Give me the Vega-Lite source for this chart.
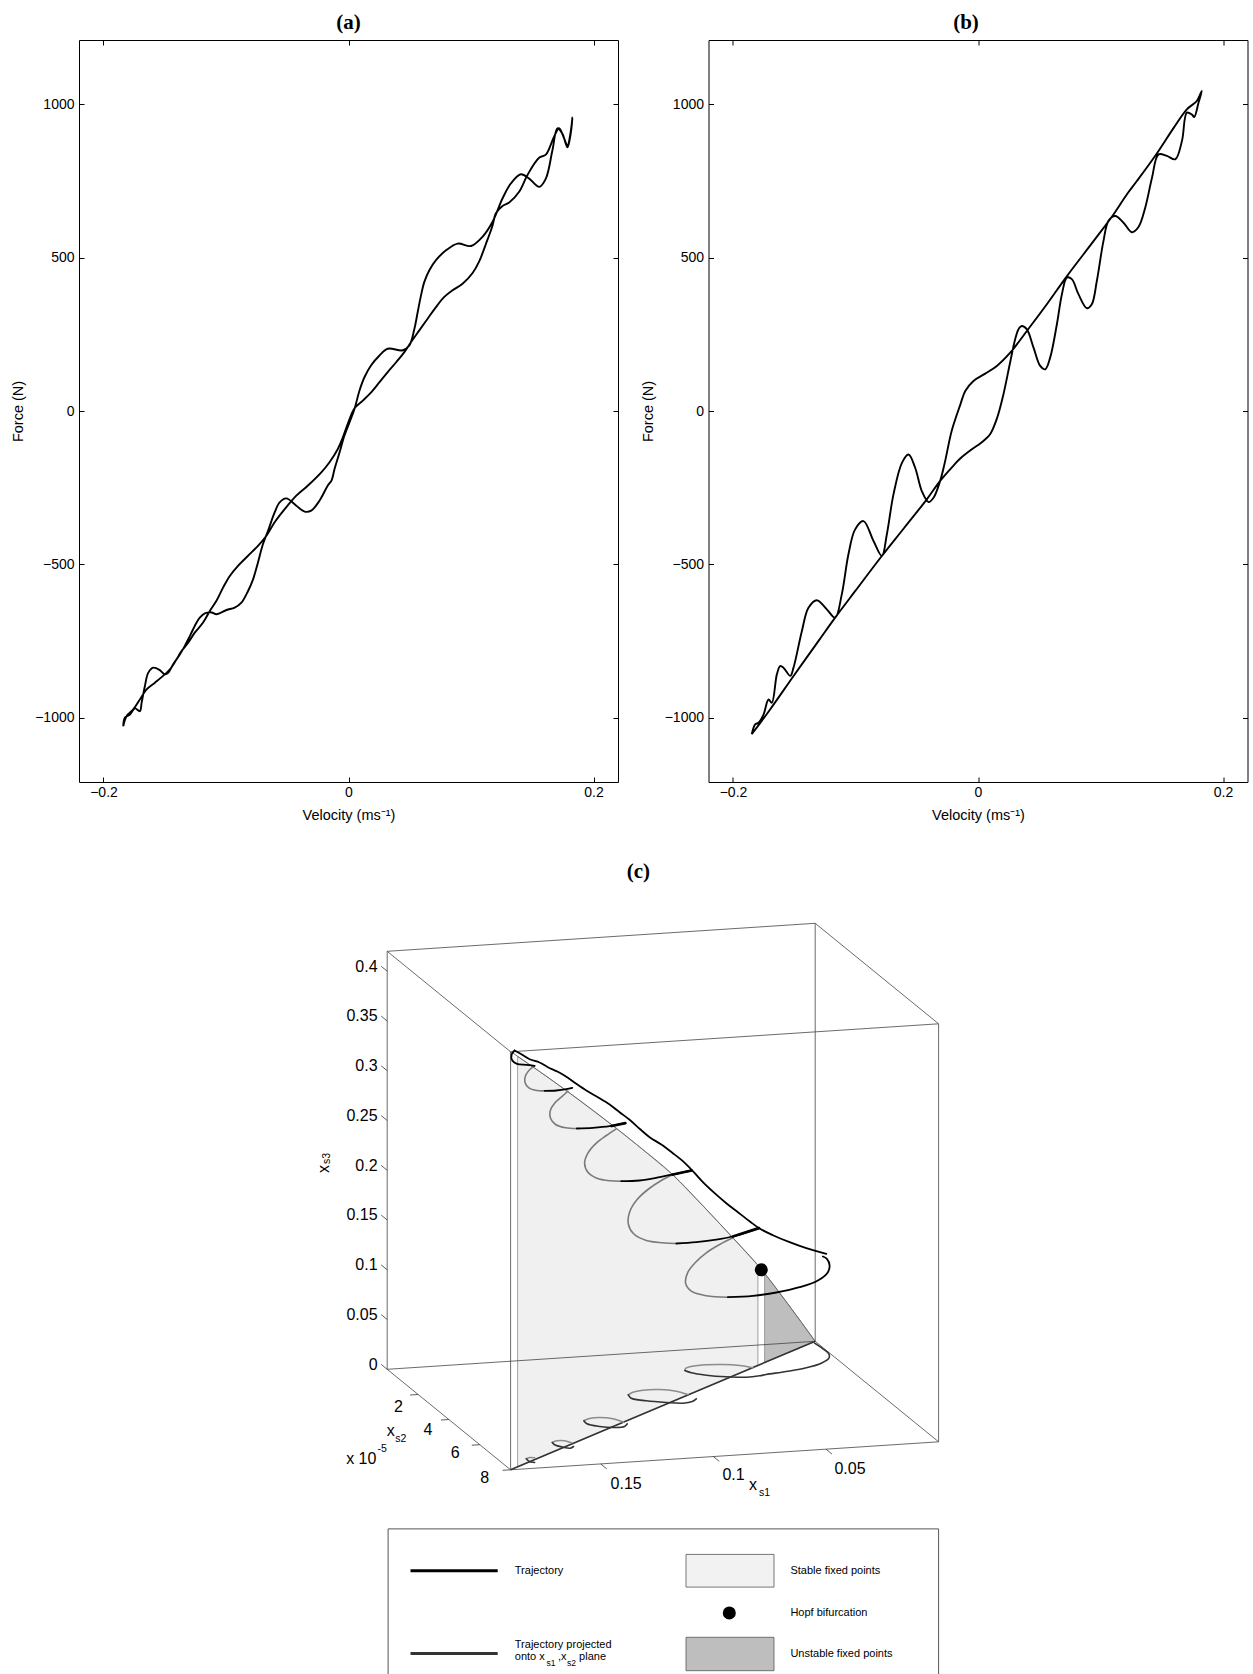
{
"$schema": "https://vega.github.io/schema/vega-lite/v6.json",
"background": "white",
"padding": {"left": 10, "top": 11, "right": 0, "bottom": 0},
"spacing": 8.5,
"config": {
 "view": {"stroke": null},
 "axis": {"labelFont": "Liberation Sans", "labelFontSize": 14, "labelColor": "black", "titleFont": "Liberation Sans", "titleFontSize": 14.5, "titleFontWeight": "normal", "titleColor": "black", "domainColor": "black", "domainWidth": 1, "tickColor": "black", "tickWidth": 1, "tickSize": -5, "grid": false, "labelFlush": false, "labelOverlap": false, "labelBound": false},
 "axisBottom": {"labelPadding": 8.5, "titlePadding": 8.5},
 "axisLeft": {"labelPadding": 10, "titlePadding": 9}
},
"vconcat": [
{"hconcat": [
 {"width": 539, "height": 742,
  "title": {"text": "(a)", "font": "Liberation Serif", "fontSize": 21, "fontWeight": "bold", "color": "black", "offset": 7, "anchor": "middle"},
  "data": {"values": [
{"i":0,"v":-0.1839,"F":-1028},{"i":1,"v":-0.1811,"F":-995},{"i":2,"v":-0.1757,"F":-973},{"i":3,"v":-0.1703,"F":-941},{"i":4,"v":-0.1648,"F":-908},{"i":5,"v":-0.158,"F":-886},{"i":6,"v":-0.1499,"F":-859},{"i":7,"v":-0.1458,"F":-843},{"i":8,"v":-0.1404,"F":-810},{"i":9,"v":-0.1363,"F":-783},{"i":10,"v":-0.1309,"F":-756},{"i":11,"v":-0.1255,"F":-723},{"i":12,"v":-0.1187,"F":-690},{"i":13,"v":-0.1132,"F":-652},{"i":14,"v":-0.1078,"F":-619},{"i":15,"v":-0.1024,"F":-576},{"i":16,"v":-0.0969,"F":-538},{"i":17,"v":-0.0902,"F":-505},{"i":18,"v":-0.082,"F":-472},{"i":19,"v":-0.0739,"F":-440},{"i":20,"v":-0.067,"F":-407},{"i":21,"v":-0.0603,"F":-363},{"i":22,"v":-0.0521,"F":-320},{"i":23,"v":-0.0426,"F":-276},{"i":24,"v":-0.0331,"F":-243},{"i":25,"v":-0.0222,"F":-200},{"i":26,"v":-0.0155,"F":-167},{"i":27,"v":-0.0087,"F":-124},{"i":28,"v":-0.0046,"F":-86},{"i":29,"v":-0.0006,"F":-42},{"i":30,"v":0.0049,"F":9},{"i":31,"v":0.0117,"F":34},{"i":32,"v":0.0185,"F":61},{"i":33,"v":0.0253,"F":94},{"i":34,"v":0.032,"F":127},{"i":35,"v":0.0389,"F":159},{"i":36,"v":0.0456,"F":192},{"i":37,"v":0.0511,"F":225},{"i":38,"v":0.0578,"F":263},{"i":39,"v":0.0646,"F":301},{"i":40,"v":0.0714,"F":339},{"i":41,"v":0.0782,"F":372},{"i":42,"v":0.085,"F":394},{"i":43,"v":0.0931,"F":415},{"i":44,"v":0.1013,"F":450},{"i":45,"v":0.1067,"F":488},{"i":46,"v":0.1122,"F":545},{"i":47,"v":0.1176,"F":605},{"i":48,"v":0.1203,"F":645},{"i":49,"v":0.1255,"F":668},{"i":50,"v":0.1312,"F":680},{"i":51,"v":0.1393,"F":715},{"i":52,"v":0.1461,"F":770},{"i":53,"v":0.1556,"F":826},{"i":54,"v":0.1611,"F":836},{"i":55,"v":0.1678,"F":895},{"i":56,"v":0.1719,"F":922},{"i":57,"v":0.176,"F":889},{"i":58,"v":0.1787,"F":866},{"i":59,"v":0.1814,"F":911},{"i":60,"v":0.1828,"F":957},{"i":61,"v":0.1814,"F":905},{"i":62,"v":0.1787,"F":860},{"i":63,"v":0.1746,"F":904},{"i":64,"v":0.1705,"F":922},{"i":65,"v":0.1665,"F":851},{"i":66,"v":0.1611,"F":758},{"i":67,"v":0.1556,"F":731},{"i":68,"v":0.1475,"F":758},{"i":69,"v":0.1407,"F":772},{"i":70,"v":0.1325,"F":742},{"i":71,"v":0.1257,"F":693},{"i":72,"v":0.1176,"F":617},{"i":73,"v":0.1094,"F":568},{"i":74,"v":0.1,"F":538},{"i":75,"v":0.0891,"F":546},{"i":76,"v":0.0796,"F":524},{"i":77,"v":0.0714,"F":492},{"i":78,"v":0.066,"F":459},{"i":79,"v":0.0619,"F":421},{"i":80,"v":0.0592,"F":377},{"i":81,"v":0.0565,"F":323},{"i":82,"v":0.0538,"F":268},{"i":83,"v":0.0497,"F":214},{"i":84,"v":0.0443,"F":198},{"i":85,"v":0.032,"F":203},{"i":86,"v":0.0253,"F":181},{"i":87,"v":0.0185,"F":149},{"i":88,"v":0.013,"F":110},{"i":89,"v":0.009,"F":67},{"i":90,"v":0.0049,"F":7},{"i":91,"v":0.0008,"F":-37},{"i":92,"v":-0.0033,"F":-80},{"i":93,"v":-0.0073,"F":-135},{"i":94,"v":-0.0114,"F":-189},{"i":95,"v":-0.0138,"F":-226},{"i":96,"v":-0.0169,"F":-243},{"i":97,"v":-0.0236,"F":-292},{"i":98,"v":-0.0304,"F":-325},{"i":99,"v":-0.0358,"F":-328},{"i":100,"v":-0.0426,"F":-309},{"i":101,"v":-0.0508,"F":-285},{"i":102,"v":-0.0562,"F":-298},{"i":103,"v":-0.0603,"F":-331},{"i":104,"v":-0.0657,"F":-391},{"i":105,"v":-0.0698,"F":-434},{"i":106,"v":-0.0739,"F":-494},{"i":107,"v":-0.0779,"F":-549},{"i":108,"v":-0.082,"F":-587},{"i":109,"v":-0.0874,"F":-625},{"i":110,"v":-0.0929,"F":-641},{"i":111,"v":-0.0996,"F":-649},{"i":112,"v":-0.1078,"F":-663},{"i":113,"v":-0.1117,"F":-657},{"i":114,"v":-0.1173,"F":-660},{"i":115,"v":-0.1214,"F":-674},{"i":116,"v":-0.1255,"F":-701},{"i":117,"v":-0.1295,"F":-734},{"i":118,"v":-0.1336,"F":-766},{"i":119,"v":-0.1377,"F":-794},{"i":120,"v":-0.1431,"F":-826},{"i":121,"v":-0.1472,"F":-854},{"i":122,"v":-0.1499,"F":-859},{"i":123,"v":-0.154,"F":-845},{"i":124,"v":-0.1594,"F":-837},{"i":125,"v":-0.1635,"F":-854},{"i":126,"v":-0.1662,"F":-897},{"i":127,"v":-0.1689,"F":-952},{"i":128,"v":-0.1703,"F":-979},{"i":129,"v":-0.1743,"F":-970},{"i":130,"v":-0.1784,"F":-990},{"i":131,"v":-0.1825,"F":-1000},{"i":132,"v":-0.1839,"F":-1028}
  ]},
  "encoding": {"order": {"field": "i", "type": "quantitative"}},
  "layer": [
   {"mark": {"type": "line", "color": "black", "strokeWidth": 1.9, "interpolate": "catmull-rom", "strokeJoin": "round"},
    "encoding": {
     "x": {"field": "v", "type": "quantitative", "scale": {"domain": [-0.22, 0.22], "nice": false, "zero": false}, "axis": {"orient": "bottom", "values": [-0.2, 0, 0.2], "format": "~g", "title": "Velocity (ms\u207b\u00b9)"}},
     "y": {"field": "F", "type": "quantitative", "scale": {"domain": [-1210, 1210], "nice": false, "zero": false}, "axis": {"orient": "left", "values": [-1000, -500, 0, 500, 1000], "format": "d", "title": "Force (N)"}}}},
   {"mark": {"type": "line", "opacity": 0},
    "encoding": {
     "x": {"field": "v", "type": "quantitative", "scale": {"domain": [-0.22, 0.22], "nice": false, "zero": false}, "axis": {"orient": "top", "values": [-0.2, 0, 0.2], "labels": false, "title": null}},
     "y": {"field": "F", "type": "quantitative", "scale": {"domain": [-1210, 1210], "nice": false, "zero": false}, "axis": {"orient": "right", "values": [-1000, -500, 0, 500, 1000], "labels": false, "title": null}}}}
  ],
  "resolve": {"axis": {"x": "independent", "y": "independent"}}
 },
 {"width": 539, "height": 742,
  "title": {"text": "(b)", "font": "Liberation Serif", "fontSize": 21, "fontWeight": "bold", "color": "black", "offset": 7, "anchor": "middle", "dx": -12},
  "data": {"values": [
{"i":0,"v":-0.1847,"F":-1054},{"i":1,"v":-0.17,"F":-975},{"i":2,"v":-0.15,"F":-861},{"i":3,"v":-0.13,"F":-749},{"i":4,"v":-0.1166,"F":-674},{"i":5,"v":-0.1,"F":-586},{"i":6,"v":-0.0785,"F":-473},{"i":7,"v":-0.06,"F":-380},{"i":8,"v":-0.0418,"F":-288},{"i":9,"v":-0.0309,"F":-228},{"i":10,"v":-0.02,"F":-178},{"i":11,"v":-0.0145,"F":-155},{"i":12,"v":-0.005,"F":-125},{"i":13,"v":0.0018,"F":-106},{"i":14,"v":0.006,"F":-92},{"i":15,"v":0.01,"F":-75},{"i":16,"v":0.0154,"F":-25},{"i":17,"v":0.0208,"F":55},{"i":18,"v":0.0263,"F":160},{"i":19,"v":0.0304,"F":235},{"i":20,"v":0.0335,"F":270},{"i":21,"v":0.0358,"F":277},{"i":22,"v":0.0399,"F":266},{"i":23,"v":0.0454,"F":206},{"i":24,"v":0.0508,"F":147},{"i":25,"v":0.0549,"F":136},{"i":26,"v":0.0589,"F":174},{"i":27,"v":0.0644,"F":283},{"i":28,"v":0.0685,"F":381},{"i":29,"v":0.0726,"F":435},{"i":30,"v":0.0766,"F":430},{"i":31,"v":0.082,"F":381},{"i":32,"v":0.0889,"F":335},{"i":33,"v":0.0929,"F":348},{"i":34,"v":0.097,"F":424},{"i":35,"v":0.1024,"F":554},{"i":36,"v":0.1065,"F":620},{"i":37,"v":0.112,"F":636},{"i":38,"v":0.1188,"F":614},{"i":39,"v":0.1256,"F":583},{"i":40,"v":0.131,"F":600},{"i":41,"v":0.1365,"F":663},{"i":42,"v":0.142,"F":760},{"i":43,"v":0.1474,"F":837},{"i":44,"v":0.1542,"F":832},{"i":45,"v":0.161,"F":821},{"i":46,"v":0.1665,"F":881},{"i":47,"v":0.1705,"F":973},{"i":48,"v":0.1746,"F":967},{"i":49,"v":0.1765,"F":959},{"i":50,"v":0.18,"F":1005},{"i":51,"v":0.1827,"F":1044},{"i":52,"v":0.1786,"F":1011},{"i":53,"v":0.1705,"F":984},{"i":54,"v":0.16,"F":925},{"i":55,"v":0.146,"F":840},{"i":56,"v":0.1297,"F":750},{"i":57,"v":0.1216,"F":707},{"i":58,"v":0.1106,"F":641},{"i":59,"v":0.0943,"F":554},{"i":60,"v":0.0726,"F":440},{"i":61,"v":0.0562,"F":348},{"i":62,"v":0.0399,"F":261},{"i":63,"v":0.0263,"F":190},{"i":64,"v":0.0154,"F":147},{"i":65,"v":0.0059,"F":122},{"i":66,"v":-0.0037,"F":98},{"i":67,"v":-0.0104,"F":65},{"i":68,"v":-0.0145,"F":20},{"i":69,"v":-0.0215,"F":-65},{"i":70,"v":-0.0268,"F":-163},{"i":71,"v":-0.0309,"F":-228},{"i":72,"v":-0.0363,"F":-283},{"i":73,"v":-0.0404,"F":-297},{"i":74,"v":-0.0459,"F":-261},{"i":75,"v":-0.0513,"F":-185},{"i":76,"v":-0.0567,"F":-142},{"i":77,"v":-0.0621,"F":-169},{"i":78,"v":-0.069,"F":-272},{"i":79,"v":-0.0744,"F":-402},{"i":80,"v":-0.0785,"F":-473},{"i":81,"v":-0.0853,"F":-424},{"i":82,"v":-0.0935,"F":-359},{"i":83,"v":-0.1003,"F":-386},{"i":84,"v":-0.1058,"F":-468},{"i":85,"v":-0.1112,"F":-598},{"i":86,"v":-0.1166,"F":-674},{"i":87,"v":-0.1234,"F":-647},{"i":88,"v":-0.1316,"F":-617},{"i":89,"v":-0.1384,"F":-642},{"i":90,"v":-0.1438,"F":-718},{"i":91,"v":-0.1506,"F":-837},{"i":92,"v":-0.1533,"F":-864},{"i":93,"v":-0.1588,"F":-837},{"i":94,"v":-0.1615,"F":-832},{"i":95,"v":-0.1642,"F":-859},{"i":96,"v":-0.1683,"F":-952},{"i":97,"v":-0.171,"F":-941},{"i":98,"v":-0.1751,"F":-990},{"i":99,"v":-0.1792,"F":-1017},{"i":100,"v":-0.1819,"F":-1022},{"i":101,"v":-0.1847,"F":-1054}
  ]},
  "encoding": {"order": {"field": "i", "type": "quantitative"}},
  "layer": [
   {"mark": {"type": "line", "color": "black", "strokeWidth": 1.9, "interpolate": "catmull-rom", "strokeJoin": "round"},
    "encoding": {
     "x": {"field": "v", "type": "quantitative", "scale": {"domain": [-0.22, 0.22], "nice": false, "zero": false}, "axis": {"orient": "bottom", "values": [-0.2, 0, 0.2], "format": "~g", "title": "Velocity (ms\u207b\u00b9)"}},
     "y": {"field": "F", "type": "quantitative", "scale": {"domain": [-1210, 1210], "nice": false, "zero": false}, "axis": {"orient": "left", "values": [-1000, -500, 0, 500, 1000], "format": "d", "title": "Force (N)"}}}},
   {"mark": {"type": "line", "opacity": 0},
    "encoding": {
     "x": {"field": "v", "type": "quantitative", "scale": {"domain": [-0.22, 0.22], "nice": false, "zero": false}, "axis": {"orient": "top", "values": [-0.2, 0, 0.2], "labels": false, "title": null}},
     "y": {"field": "F", "type": "quantitative", "scale": {"domain": [-1210, 1210], "nice": false, "zero": false}, "axis": {"orient": "right", "values": [-1000, -500, 0, 500, 1000], "labels": false, "title": null}}}}
  ],
  "resolve": {"axis": {"x": "independent", "y": "independent"}}
 }
], "spacing": 20.5},
{"width": 1173.6, "height": 844,
 "encoding": {
  "x": {"field": "X", "type": "quantitative", "scale": {"domain": [79.4, 1253], "nice": false, "zero": false}, "axis": null},
  "y": {"field": "Y", "type": "quantitative", "scale": {"domain": [830, 1674], "reverse": true, "nice": false, "zero": false}, "axis": null}
 },
 "layer": [
  {"data": {"values": [{"X":518,"Y":1055.8,"Y2":1466.3},{"X":540,"Y":1071,"Y2":1457.1},{"X":568,"Y":1091,"Y2":1445.3},{"X":617,"Y":1128,"Y2":1424.6},{"X":637,"Y":1144,"Y2":1416.1},{"X":673,"Y":1174,"Y2":1401},{"X":704,"Y":1206,"Y2":1387.9},{"X":733,"Y":1237,"Y2":1375.6},{"X":758.3,"Y":1264.9,"Y2":1365}]},
   "mark": {"type": "area", "fill": "#f0f0f0", "stroke": "#8c8c8c", "strokeWidth": 0.8},
   "encoding": {"y2": {"field": "Y2"}}},
  {"data": {"values": [{"X":765,"Y":1272.9,"Y2":1362.1},{"X":788,"Y":1303,"Y2":1352.4},{"X":815.6,"Y":1340.8,"Y2":1340.8}]},
   "mark": {"type": "area", "fill": "#bebebe", "stroke": "#8c8c8c", "strokeWidth": 0.8},
   "encoding": {"y2": {"field": "Y2"}}},
  {"data": {"values": [
   {"X":387.6,"Y":950.8,"X2":815.6,"Y2":922.8},{"X":815.6,"Y":922.8,"X2":939,"Y2":1023.3},{"X":939,"Y":1023.3,"X2":511,"Y2":1051.3},{"X":511,"Y":1051.3,"X2":387.6,"Y2":950.8},
   {"X":387.6,"Y":1368.8,"X2":815.6,"Y2":1340.8},{"X":815.6,"Y":1340.8,"X2":939,"Y2":1441.3},{"X":939,"Y":1441.3,"X2":511,"Y2":1469.3},{"X":511,"Y":1469.3,"X2":387.6,"Y2":1368.8},
   {"X":387.6,"Y":950.8,"X2":387.6,"Y2":1368.8},{"X":815.6,"Y":922.8,"X2":815.6,"Y2":1340.8},{"X":939,"Y":1023.3,"X2":939,"Y2":1441.3},{"X":511,"Y":1051.3,"X2":511,"Y2":1469.3}]},
   "mark": {"type": "rule", "color": "#444444", "strokeWidth": 0.8},
   "encoding": {"x2": {"field": "X2"}, "y2": {"field": "Y2"}}},
  {"data": {"values": [{"X":511,"Y":1051},{"X":540,"Y":1071},{"X":568,"Y":1091},{"X":617,"Y":1128},{"X":637,"Y":1144},{"X":673,"Y":1174},{"X":704,"Y":1206},{"X":733,"Y":1237},{"X":762,"Y":1269},{"X":788,"Y":1303},{"X":815.6,"Y":1340.8}]},
   "mark": {"type": "line", "color": "#555555", "strokeWidth": 0.8, "interpolate": "monotone"}},
  {"data": {"values": [{"X":511,"Y":1469.3,"X2":815.6,"Y2":1340.8}]},
   "mark": {"type": "rule", "color": "#333333", "strokeWidth": 1.6},
   "encoding": {"x2": {"field": "X2"}, "y2": {"field": "Y2"}}},
  {"data": {"values": [
   {"s":"FG1","k":0,"X":535,"Y":1457.3},{"s":"FG1","k":1,"X":530,"Y":1457},{"s":"FG1","k":2,"X":526.7,"Y":1458.3},
   {"s":"FG2","k":0,"X":571.7,"Y":1442.3},{"s":"FG2","k":1,"X":565,"Y":1440.3},{"s":"FG2","k":2,"X":557.3,"Y":1440.3},{"s":"FG2","k":3,"X":552.7,"Y":1442},
   {"s":"FG3","k":0,"X":624,"Y":1421.7},{"s":"FG3","k":1,"X":613.3,"Y":1418.3},{"s":"FG3","k":2,"X":600,"Y":1417},{"s":"FG3","k":3,"X":590,"Y":1418},{"s":"FG3","k":4,"X":584.3,"Y":1420.3},
   {"s":"FG4","k":0,"X":688.3,"Y":1394},{"s":"FG4","k":1,"X":676.7,"Y":1390.7},{"s":"FG4","k":2,"X":660,"Y":1389},{"s":"FG4","k":3,"X":643.3,"Y":1389.7},{"s":"FG4","k":4,"X":633.3,"Y":1391.7},{"s":"FG4","k":5,"X":628.7,"Y":1394.3},
   {"s":"FG5","k":0,"X":753.3,"Y":1367.3},{"s":"FG5","k":1,"X":740,"Y":1365},{"s":"FG5","k":2,"X":723.3,"Y":1364},{"s":"FG5","k":3,"X":706.7,"Y":1364.3},{"s":"FG5","k":4,"X":693.3,"Y":1365.7},{"s":"FG5","k":5,"X":686,"Y":1368},{"s":"FG5","k":6,"X":685.3,"Y":1370}]},
   "mark": {"type": "line", "color": "#8c8c8c", "strokeWidth": 1.6, "interpolate": "catmull-rom", "strokeCap": "round"},
   "encoding": {"detail": {"field": "s"}, "order": {"field": "k", "type": "quantitative"}}},
  {"data": {"values": [
   {"s":"FS1","k":0,"X":526.7,"Y":1458.3},{"s":"FS1","k":1,"X":529.3,"Y":1460.7},{"s":"FS1","k":2,"X":535,"Y":1462},
   {"s":"FS2","k":0,"X":552.7,"Y":1442},{"s":"FS2","k":1,"X":555,"Y":1444.3},{"s":"FS2","k":2,"X":563.3,"Y":1446.7},{"s":"FS2","k":3,"X":570.7,"Y":1447.7},{"s":"FS2","k":4,"X":574,"Y":1446},
   {"s":"FS3","k":0,"X":584.3,"Y":1420.3},{"s":"FS3","k":1,"X":587.3,"Y":1423.3},{"s":"FS3","k":2,"X":600,"Y":1426},{"s":"FS3","k":3,"X":615,"Y":1427},{"s":"FS3","k":4,"X":625,"Y":1426},{"s":"FS3","k":5,"X":627.7,"Y":1423.3},
   {"s":"FS4","k":0,"X":628.7,"Y":1394.3},{"s":"FS4","k":1,"X":631.7,"Y":1397.7},{"s":"FS4","k":2,"X":646.7,"Y":1400.3},{"s":"FS4","k":3,"X":666.7,"Y":1402},{"s":"FS4","k":4,"X":683.3,"Y":1402.7},{"s":"FS4","k":5,"X":692.7,"Y":1401},{"s":"FS4","k":6,"X":696.7,"Y":1398.3},
   {"s":"FS5","k":0,"X":685.3,"Y":1370},{"s":"FS5","k":1,"X":691.7,"Y":1372.3},{"s":"FS5","k":2,"X":706.7,"Y":1374.7},{"s":"FS5","k":3,"X":726.7,"Y":1376.3},{"s":"FS5","k":4,"X":746.7,"Y":1376.7},{"s":"FS5","k":5,"X":760,"Y":1375.3},{"s":"FS5","k":6,"X":766.7,"Y":1374},{"s":"FS5","k":7,"X":786.7,"Y":1371},{"s":"FS5","k":8,"X":806.7,"Y":1367.3},{"s":"FS5","k":9,"X":821.7,"Y":1362.7},{"s":"FS5","k":10,"X":829.3,"Y":1357.7},{"s":"FS5","k":11,"X":829.3,"Y":1353.3},{"s":"FS5","k":12,"X":823.3,"Y":1348.3},{"s":"FS5","k":13,"X":815,"Y":1342.7}]},
   "mark": {"type": "line", "color": "#333333", "strokeWidth": 1.6, "interpolate": "catmull-rom", "strokeCap": "round"},
   "encoding": {"detail": {"field": "s"}, "order": {"field": "k", "type": "quantitative"}}},
  {"data": {"values": [
   {"s":"G1","k":0,"X":535,"Y":1065.3},{"s":"G1","k":1,"X":530,"Y":1069.3},{"s":"G1","k":2,"X":526,"Y":1075},{"s":"G1","k":3,"X":525.3,"Y":1081.7},{"s":"G1","k":4,"X":529.3,"Y":1087.3},{"s":"G1","k":5,"X":537.3,"Y":1090},{"s":"G1","k":6,"X":545,"Y":1090.3},
   {"s":"G2","k":0,"X":568.3,"Y":1090.7},{"s":"G2","k":1,"X":561.7,"Y":1096.7},{"s":"G2","k":2,"X":555,"Y":1102.7},{"s":"G2","k":3,"X":550.7,"Y":1110},{"s":"G2","k":4,"X":550.7,"Y":1117.3},{"s":"G2","k":5,"X":556,"Y":1124},{"s":"G2","k":6,"X":566,"Y":1127.3},{"s":"G2","k":7,"X":577.3,"Y":1128},
   {"s":"G3","k":0,"X":616.7,"Y":1128.3},{"s":"G3","k":1,"X":606.7,"Y":1135},{"s":"G3","k":2,"X":596.7,"Y":1142.7},{"s":"G3","k":3,"X":588.3,"Y":1152.7},{"s":"G3","k":4,"X":585,"Y":1162.7},{"s":"G3","k":5,"X":588.3,"Y":1171.7},{"s":"G3","k":6,"X":597.3,"Y":1177.7},{"s":"G3","k":7,"X":610.7,"Y":1180.3},{"s":"G3","k":8,"X":621.7,"Y":1180.7},
   {"s":"G4","k":0,"X":673.3,"Y":1174},{"s":"G4","k":1,"X":661.7,"Y":1180},{"s":"G4","k":2,"X":648.3,"Y":1189},{"s":"G4","k":3,"X":637.3,"Y":1199.3},{"s":"G4","k":4,"X":630,"Y":1211.7},{"s":"G4","k":5,"X":628.7,"Y":1223.3},{"s":"G4","k":6,"X":634,"Y":1233.3},{"s":"G4","k":7,"X":646.7,"Y":1240},{"s":"G4","k":8,"X":663.3,"Y":1242.3},{"s":"G4","k":9,"X":676.7,"Y":1243},
   {"s":"G5","k":0,"X":733.3,"Y":1237.3},{"s":"G5","k":1,"X":720,"Y":1244},{"s":"G5","k":2,"X":706.7,"Y":1252.3},{"s":"G5","k":3,"X":696,"Y":1261.7},{"s":"G5","k":4,"X":688.3,"Y":1271.7},{"s":"G5","k":5,"X":686,"Y":1282.7},{"s":"G5","k":6,"X":691.7,"Y":1290.7},{"s":"G5","k":7,"X":706.7,"Y":1295.3},{"s":"G5","k":8,"X":728.3,"Y":1296.7}]},
   "mark": {"type": "line", "color": "#7a7a7a", "strokeWidth": 1.6, "interpolate": "catmull-rom", "strokeCap": "round"},
   "encoding": {"detail": {"field": "s"}, "order": {"field": "k", "type": "quantitative"}}},
  {"data": {"values": [
   {"s":"E","k":0,"X":515,"Y":1050},{"s":"E","k":1,"X":520,"Y":1052.7},{"s":"E","k":2,"X":530,"Y":1058.7},{"s":"E","k":3,"X":540,"Y":1062},{"s":"E","k":4,"X":548.3,"Y":1066.7},{"s":"E","k":5,"X":558.3,"Y":1071.3},{"s":"E","k":6,"X":568.3,"Y":1077.3},{"s":"E","k":7,"X":576.7,"Y":1083.3},{"s":"E","k":8,"X":586.7,"Y":1090},{"s":"E","k":9,"X":598.3,"Y":1096.7},{"s":"E","k":10,"X":610,"Y":1104},{"s":"E","k":11,"X":620,"Y":1111.7},{"s":"E","k":12,"X":630,"Y":1119.3},{"s":"E","k":13,"X":640,"Y":1128.3},{"s":"E","k":14,"X":650,"Y":1136.7},{"s":"E","k":15,"X":661.7,"Y":1144},{"s":"E","k":16,"X":673.3,"Y":1152.7},{"s":"E","k":17,"X":683.3,"Y":1160.7},{"s":"E","k":18,"X":693.3,"Y":1170.7},{"s":"E","k":19,"X":703.3,"Y":1181.7},{"s":"E","k":20,"X":715,"Y":1192.7},{"s":"E","k":21,"X":726.7,"Y":1202.7},{"s":"E","k":22,"X":738.3,"Y":1211.7},{"s":"E","k":23,"X":750,"Y":1220.7},{"s":"E","k":24,"X":760,"Y":1228},{"s":"E","k":25,"X":773.3,"Y":1234.7},{"s":"E","k":26,"X":790,"Y":1241.7},{"s":"E","k":27,"X":806.7,"Y":1247.7},{"s":"E","k":28,"X":826.7,"Y":1253.3},
   {"s":"L0","k":0,"X":515,"Y":1050},{"s":"L0","k":1,"X":512,"Y":1054},{"s":"L0","k":2,"X":512.7,"Y":1060},{"s":"L0","k":3,"X":517.3,"Y":1063.3},{"s":"L0","k":4,"X":526.7,"Y":1064.3},{"s":"L0","k":5,"X":535,"Y":1065.3},
   {"s":"S1","k":0,"X":545,"Y":1090.3},{"s":"S1","k":1,"X":556.7,"Y":1090},{"s":"S1","k":2,"X":566.7,"Y":1088.7},{"s":"S1","k":3,"X":572.7,"Y":1087.3},
   {"s":"S2","k":0,"X":577.3,"Y":1128},{"s":"S2","k":1,"X":593.3,"Y":1127.3},{"s":"S2","k":2,"X":610,"Y":1125.7},{"s":"S2","k":3,"X":625.7,"Y":1122.7},
   {"s":"S3","k":0,"X":621.7,"Y":1180.7},{"s":"S3","k":1,"X":640,"Y":1180},{"s":"S3","k":2,"X":660,"Y":1176.7},{"s":"S3","k":3,"X":676.7,"Y":1173.3},{"s":"S3","k":4,"X":692,"Y":1170},
   {"s":"S4","k":0,"X":676.7,"Y":1243},{"s":"S4","k":1,"X":696.7,"Y":1241.7},{"s":"S4","k":2,"X":720,"Y":1238.7},{"s":"S4","k":3,"X":736.7,"Y":1235},{"s":"S4","k":4,"X":750,"Y":1230.7},{"s":"S4","k":5,"X":759.3,"Y":1227.7},
   {"s":"S5","k":0,"X":728.3,"Y":1296.7},{"s":"S5","k":1,"X":753.3,"Y":1295.3},{"s":"S5","k":2,"X":776.7,"Y":1292},{"s":"S5","k":3,"X":800,"Y":1286.7},{"s":"S5","k":4,"X":818.3,"Y":1280},{"s":"S5","k":5,"X":828.3,"Y":1271.7},{"s":"S5","k":6,"X":830,"Y":1265},{"s":"S5","k":7,"X":827.3,"Y":1258.3},{"s":"S5","k":8,"X":823.3,"Y":1256}]},
   "mark": {"type": "line", "color": "black", "strokeWidth": 1.8, "interpolate": "catmull-rom", "strokeCap": "round"},
   "encoding": {"detail": {"field": "s"}, "order": {"field": "k", "type": "quantitative"}}},
  {"data": {"values": [
   {"s":"T2","k":0,"X":612,"Y":1125.5},{"s":"T2","k":1,"X":625.7,"Y":1122.7},
   {"s":"T3","k":0,"X":673.3,"Y":1174},{"s":"T3","k":1,"X":692,"Y":1170},
   {"s":"T4","k":0,"X":733.3,"Y":1236},{"s":"T4","k":1,"X":750,"Y":1230.7},{"s":"T4","k":2,"X":759.3,"Y":1227.7}]},
   "mark": {"type": "line", "color": "black", "strokeWidth": 2.8, "strokeCap": "round"},
   "encoding": {"detail": {"field": "s"}, "order": {"field": "k", "type": "quantitative"}}},
  {"data": {"values": [{"X":761.7,"Y":1269.3},{"X":729.7,"Y":1612.4}]},
   "mark": {"type": "point", "filled": true, "color": "black", "opacity": 1, "size": 170}},
  {"data": {"values": [
   {"X":387.6,"Y":1368.8,"X2":381.6,"Y2":1363.9},{"X":387.6,"Y":1319,"X2":381.6,"Y2":1314.1},{"X":387.6,"Y":1269.3,"X2":381.6,"Y2":1264.4},{"X":387.6,"Y":1219.5,"X2":381.6,"Y2":1214.6},{"X":387.6,"Y":1169.8,"X2":381.6,"Y2":1164.9},{"X":387.6,"Y":1120,"X2":381.6,"Y2":1115.1},{"X":387.6,"Y":1070.2,"X2":381.6,"Y2":1065.3},{"X":387.6,"Y":1020.5,"X2":381.6,"Y2":1015.6},{"X":387.6,"Y":970.7,"X2":381.6,"Y2":965.8},
   {"X":826.4,"Y":1448.7,"X2":832.4,"Y2":1453.6},{"X":713.7,"Y":1456,"X2":719.7,"Y2":1460.9},{"X":601.1,"Y":1463.4,"X2":607.1,"Y2":1468.3},
   {"X":418.5,"Y":1394,"X2":410.5,"Y2":1394.5},{"X":449.3,"Y":1419,"X2":441.3,"Y2":1419.5},{"X":480.2,"Y":1444.2,"X2":472.2,"Y2":1444.7},{"X":511,"Y":1469.3,"X2":503,"Y2":1469.8}]},
   "mark": {"type": "rule", "color": "#333333", "strokeWidth": 0.8},
   "encoding": {"x2": {"field": "X2"}, "y2": {"field": "Y2"}}},
  {"data": {"values": [{"t":"0","X":378,"Y":1364.2},{"t":"0.05","X":378,"Y":1314.4},{"t":"0.1","X":378,"Y":1264.7},{"t":"0.15","X":378,"Y":1214.9},{"t":"0.2","X":378,"Y":1165.2},{"t":"0.25","X":378,"Y":1115.4},{"t":"0.3","X":378,"Y":1065.6},{"t":"0.35","X":378,"Y":1015.9},{"t":"0.4","X":378,"Y":966.1}]},
   "mark": {"type": "text", "align": "right", "baseline": "middle", "font": "Liberation Sans", "fontSize": 16, "color": "black"},
   "encoding": {"text": {"field": "t"}}},
  {"data": {"values": [{"t":"0.05","X":850.4,"Y":1468.2},{"t":"0.1","X":734,"Y":1474.5},{"t":"0.15","X":626.5,"Y":1483.5},{"t":"2","X":398.9,"Y":1406},{"t":"4","X":428.4,"Y":1429.2},{"t":"6","X":455.7,"Y":1452.4},{"t":"8","X":485.2,"Y":1477.6},{"t":"x 10","X":361.7,"Y":1458.7},{"t":"x","X":753.5,"Y":1484},{"t":"x","X":391.1,"Y":1430.7}]},
   "mark": {"type": "text", "align": "center", "baseline": "middle", "font": "Liberation Sans", "fontSize": 16, "color": "black"},
   "encoding": {"text": {"field": "t"}}},
  {"data": {"values": [{"t":"-5","X":382.5,"Y":1448.5},{"t":"s1","X":765,"Y":1492.4},{"t":"s2","X":401.2,"Y":1438.5}]},
   "mark": {"type": "text", "align": "center", "baseline": "middle", "font": "Liberation Sans", "fontSize": 10.5, "color": "black"},
   "encoding": {"text": {"field": "t"}}},
  {"data": {"values": [{"t":"x","X":324,"Y":1168.5}]},
   "mark": {"type": "text", "align": "center", "baseline": "middle", "font": "Liberation Sans", "fontSize": 16, "angle": 270, "color": "black"},
   "encoding": {"text": {"field": "t"}}},
  {"data": {"values": [{"t":"s3","X":327.5,"Y":1158}]},
   "mark": {"type": "text", "align": "center", "baseline": "middle", "font": "Liberation Sans", "fontSize": 10.5, "angle": 270, "color": "black"},
   "encoding": {"text": {"field": "t"}}},
  {"data": {"values": [{"t":"(c)","X":638.8,"Y":871.6}]},
   "mark": {"type": "text", "align": "center", "baseline": "middle", "font": "Liberation Serif", "fontSize": 21, "fontWeight": "bold", "color": "black"},
   "encoding": {"text": {"field": "t"}}},
  {"data": {"values": [{"X":388.5,"Y":1528.4,"X2":939,"Y2":1528.4},{"X":388.5,"Y":1528.4,"X2":388.5,"Y2":1674},{"X":939,"Y":1528.4,"X2":939,"Y2":1674}]},
   "mark": {"type": "rule", "color": "#555555", "strokeWidth": 1},
   "encoding": {"x2": {"field": "X2"}, "y2": {"field": "Y2"}}},
  {"data": {"values": [{"X":410.9,"Y":1570.3,"X2":498.1,"Y2":1570.3}]},
   "mark": {"type": "rule", "color": "black", "strokeWidth": 3},
   "encoding": {"x2": {"field": "X2"}, "y2": {"field": "Y2"}}},
  {"data": {"values": [{"X":410.9,"Y":1653.1,"X2":498.1,"Y2":1653.1}]},
   "mark": {"type": "rule", "color": "#333333", "strokeWidth": 3},
   "encoding": {"x2": {"field": "X2"}, "y2": {"field": "Y2"}}},
  {"data": {"values": [{"X":686.4,"Y":1553.9,"X2":774.4,"Y2":1586.6}]},
   "mark": {"type": "rect", "fill": "#f2f2f2", "stroke": "#555555", "strokeWidth": 0.8},
   "encoding": {"x2": {"field": "X2"}, "y2": {"field": "Y2"}}},
  {"data": {"values": [{"X":686.4,"Y":1636.8,"X2":774.4,"Y2":1670.2}]},
   "mark": {"type": "rect", "fill": "#bebebe", "stroke": "#555555", "strokeWidth": 0.8},
   "encoding": {"x2": {"field": "X2"}, "y2": {"field": "Y2"}}},
  {"data": {"values": [{"t":"Trajectory","X":515.2,"Y":1570.3},{"t":"Trajectory projected","X":515.2,"Y":1644},{"t":"onto x","X":515.2,"Y":1656.8},{"t":",","X":558.5,"Y":1656.8},{"t":"x","X":561.5,"Y":1656.8},{"t":"plane","X":579.5,"Y":1656.8},{"t":"Stable fixed points","X":790.8,"Y":1570.3},{"t":"Hopf bifurcation","X":790.8,"Y":1612.4},{"t":"Unstable fixed points","X":790.8,"Y":1653.1}]},
   "mark": {"type": "text", "align": "left", "baseline": "middle", "font": "Liberation Sans", "fontSize": 11, "color": "black"},
   "encoding": {"text": {"field": "t"}}},
  {"data": {"values": [{"t":"s1","X":547,"Y":1662.2},{"t":"s2","X":567.5,"Y":1662.2}]},
   "mark": {"type": "text", "align": "left", "baseline": "middle", "font": "Liberation Sans", "fontSize": 8.5, "color": "black"},
   "encoding": {"text": {"field": "t"}}}
 ]
}
]
}
